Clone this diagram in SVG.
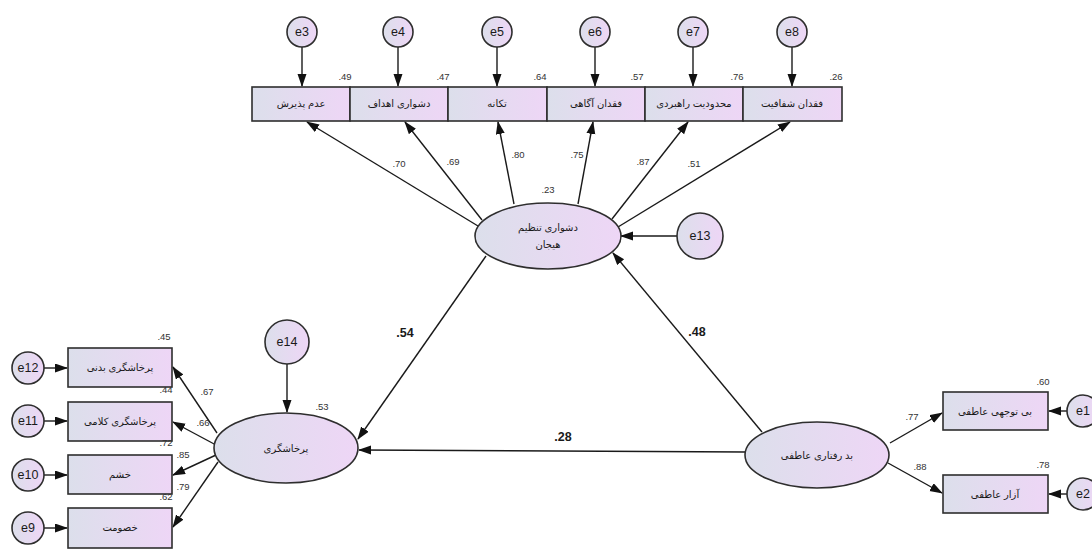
<svg xmlns="http://www.w3.org/2000/svg" width="1092" height="549" viewBox="0 0 1092 549">
<defs>
<linearGradient id="g" x1="0" y1="0" x2="1" y2="0">
<stop offset="0" stop-color="#dcdfeb"/>
<stop offset="1" stop-color="#eed6f6"/>
</linearGradient>
<marker id="ah" markerUnits="userSpaceOnUse" markerWidth="14" markerHeight="10" refX="12" refY="4.5" orient="auto">
<path d="M0,0 L13,4.5 L0,9 Z" fill="#111"/>
</marker>
</defs>
<style>
.bx{fill:url(#g);stroke:#2e2e2e;stroke-width:1.6}
.el{fill:url(#g);stroke:#2e2e2e;stroke-width:1.6}
.er{fill:url(#g);stroke:#2e2e2e;stroke-width:1.6}
.lb{font-family:"Liberation Sans","DejaVu Sans",sans-serif;font-size:10px;fill:#1a1a1a;text-anchor:middle}
.et{font-family:"Liberation Sans","DejaVu Sans",sans-serif;font-size:12.5px;fill:#1a1a1a;text-anchor:middle}
.nv{font-family:"Liberation Sans","DejaVu Sans",sans-serif;font-size:9.5px;fill:#333;text-anchor:middle}
.pc{font-family:"Liberation Sans","DejaVu Sans",sans-serif;font-size:12.5px;font-weight:bold;fill:#1a1a1a;text-anchor:middle}
.cn{stroke:#1a1a1a;stroke-width:1.4;fill:none;marker-end:url(#ah)}
</style>
<rect width="1092" height="549" fill="#ffffff"/>

<g id="connectors">
<line class="cn" x1="302" y1="47" x2="302" y2="86"/>
<line class="cn" x1="398" y1="47" x2="398" y2="86"/>
<line class="cn" x1="497" y1="47" x2="497" y2="86"/>
<line class="cn" x1="595" y1="47" x2="595" y2="86"/>
<line class="cn" x1="693" y1="47" x2="693" y2="86"/>
<line class="cn" x1="792" y1="47" x2="792" y2="86"/>
<line class="cn" x1="478" y1="226" x2="307" y2="122"/>
<line class="cn" x1="482" y1="220" x2="405" y2="122"/>
<line class="cn" x1="514" y1="204" x2="498" y2="122"/>
<line class="cn" x1="578" y1="204" x2="593" y2="122"/>
<line class="cn" x1="612" y1="219" x2="688" y2="122"/>
<line class="cn" x1="618" y1="227" x2="790" y2="122"/>
<line class="cn" x1="677" y1="236" x2="621" y2="236"/>
<line class="cn" x1="486" y1="256" x2="358" y2="439"/>
<line class="cn" x1="762" y1="432" x2="613" y2="253"/>
<line class="cn" x1="745" y1="452" x2="359" y2="450"/>
<line class="cn" x1="287" y1="364" x2="287" y2="412"/>
<line class="cn" x1="217" y1="433" x2="173" y2="367"/>
<line class="cn" x1="216" y1="445" x2="173" y2="422"/>
<line class="cn" x1="216" y1="455" x2="173" y2="475"/>
<line class="cn" x1="218" y1="462" x2="173" y2="527"/>
<line class="cn" x1="44" y1="368" x2="67" y2="368"/>
<line class="cn" x1="44" y1="421" x2="67" y2="421"/>
<line class="cn" x1="44" y1="475" x2="67" y2="475"/>
<line class="cn" x1="44" y1="528" x2="67" y2="528"/>
<line class="cn" x1="890" y1="443" x2="942" y2="413"/>
<line class="cn" x1="888" y1="463" x2="942" y2="493"/>
<line class="cn" x1="1067" y1="411" x2="1049" y2="411"/>
<line class="cn" x1="1067" y1="494" x2="1049" y2="494"/>
</g>

<g id="e3"><circle class="er" cx="302" cy="32" r="15"/><text class="et" x="302" y="36">e3</text></g>
<g id="e4"><circle class="er" cx="398" cy="32" r="15"/><text class="et" x="398" y="36">e4</text></g>
<g id="e5"><circle class="er" cx="497" cy="32" r="15"/><text class="et" x="497" y="36">e5</text></g>
<g id="e6"><circle class="er" cx="595" cy="32" r="15"/><text class="et" x="595" y="36">e6</text></g>
<g id="e7"><circle class="er" cx="693" cy="32" r="15"/><text class="et" x="693" y="36">e7</text></g>
<g id="e8"><circle class="er" cx="792" cy="32" r="15"/><text class="et" x="792" y="36">e8</text></g>

<g id="box-adamPaziresh"><rect class="bx" x="252" y="87" width="98" height="34"/><text class="lb" x="301" y="107">عدم پذیرش</text><text class="nv" x="345" y="80">.49</text></g>
<g id="box-ahdaf"><rect class="bx" x="350" y="87" width="98" height="34"/><text class="lb" x="399" y="107">دشواری اهداف</text><text class="nv" x="443" y="80">.47</text></g>
<g id="box-tekane"><rect class="bx" x="448" y="87" width="99" height="34"/><text class="lb" x="497" y="107">تکانه</text><text class="nv" x="540" y="80">.64</text></g>
<g id="box-agahi"><rect class="bx" x="547" y="87" width="98" height="34"/><text class="lb" x="596" y="107">فقدان آگاهی</text><text class="nv" x="637" y="80">.57</text></g>
<g id="box-rahbord"><rect class="bx" x="645" y="87" width="98" height="34"/><text class="lb" x="694" y="107">محدودیت راهبردی</text><text class="nv" x="737" y="80">.76</text></g>
<g id="box-shafafiat"><rect class="bx" x="743" y="87" width="99" height="34"/><text class="lb" x="792" y="107">فقدان شفافیت</text><text class="nv" x="836" y="80">.26</text></g>

<g id="ellipse-dysregulation"><ellipse class="el" cx="548" cy="236" rx="73" ry="33"/><text class="lb" x="548" y="231">دشواری تنظیم</text><text class="lb" x="548" y="248">هیجان</text><text class="nv" x="548" y="193">.23</text></g>
<g id="e13"><circle class="er" cx="700" cy="236" r="23"/><text class="et" x="700" y="240">e13</text></g>

<g id="loadings-top">
<text class="nv" x="399" y="167">.70</text>
<text class="nv" x="453" y="165">.69</text>
<text class="nv" x="518" y="158">.80</text>
<text class="nv" x="577" y="158">.75</text>
<text class="nv" x="643" y="165">.87</text>
<text class="nv" x="694" y="167">.51</text>
</g>

<g id="ellipse-aggression"><ellipse class="el" cx="286" cy="448" rx="72" ry="35"/><text class="lb" x="286" y="452">پرخاشگری</text><text class="nv" x="322" y="410">.53</text></g>
<g id="e14"><circle class="er" cx="287" cy="342" r="22"/><text class="et" x="287" y="346">e14</text></g>

<g id="box-badani"><rect class="bx" x="68" y="348" width="104" height="39"/><text class="lb" x="120" y="371">پرخاشگری بدنی</text><text class="nv" x="164" y="340">.45</text></g>
<g id="box-kalami"><rect class="bx" x="68" y="402" width="104" height="39"/><text class="lb" x="120" y="425">پرخاشگری کلامی</text><text class="nv" x="166" y="393">.44</text></g>
<g id="box-khashm"><rect class="bx" x="68" y="455" width="104" height="39"/><text class="lb" x="120" y="478">خشم</text><text class="nv" x="166" y="446">.72</text></g>
<g id="box-khosumat"><rect class="bx" x="68" y="508" width="104" height="40"/><text class="lb" x="120" y="531">خصومت</text><text class="nv" x="166" y="500">.62</text></g>

<g id="loadings-left">
<text class="nv" x="207" y="395">.67</text>
<text class="nv" x="203" y="426">.66</text>
<text class="nv" x="183" y="458">.85</text>
<text class="nv" x="183" y="490">.79</text>
</g>

<g id="e12"><circle class="er" cx="28" cy="368" r="16"/><text class="et" x="28" y="372">e12</text></g>
<g id="e11"><circle class="er" cx="28" cy="421" r="16"/><text class="et" x="28" y="425">e11</text></g>
<g id="e10"><circle class="er" cx="28" cy="475" r="16"/><text class="et" x="28" y="479">e10</text></g>
<g id="e9"><circle class="er" cx="28" cy="528" r="16"/><text class="et" x="28" y="532">e9</text></g>

<g id="ellipse-abuse"><ellipse class="el" cx="817" cy="455" rx="72" ry="33"/><text class="lb" x="817" y="459">بد رفتاری عاطفی</text></g>
<g id="box-bitavajohi"><rect class="bx" x="943" y="392" width="105" height="38"/><text class="lb" x="995" y="415">بی توجهی عاطفی</text><text class="nv" x="1043" y="385">.60</text></g>
<g id="box-azar"><rect class="bx" x="943" y="475" width="105" height="38"/><text class="lb" x="995" y="498">آزار عاطفی</text><text class="nv" x="1043" y="468">.78</text></g>
<g id="e1"><circle class="er" cx="1083" cy="411" r="16"/><text class="et" x="1083" y="415">e1</text></g>
<g id="e2"><circle class="er" cx="1083" cy="494" r="16"/><text class="et" x="1083" y="498">e2</text></g>
<text class="nv" x="912" y="420">.77</text>
<text class="nv" x="920" y="470">.88</text>

<g id="path-coefs">
<text class="pc" x="405" y="337">.54</text>
<text class="pc" x="697" y="336">.48</text>
<text class="pc" x="563" y="441">.28</text>
</g>
</svg>
